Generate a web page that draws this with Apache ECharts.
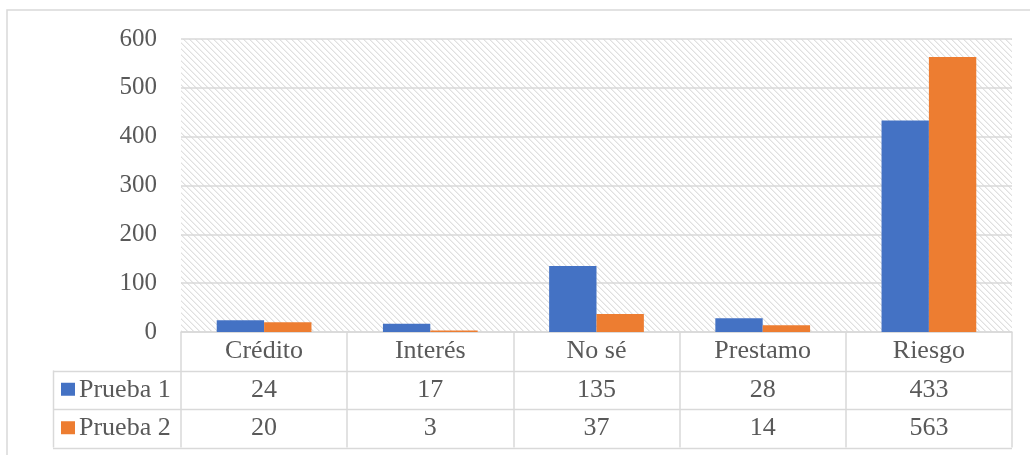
<!DOCTYPE html>
<html>
<head>
<meta charset="utf-8">
<script src="https://cdn.jsdelivr.net/npm/echarts@6/dist/echarts.min.js"></script>
<style>html,body{margin:0;padding:0;background:#fff;}#c{width:1030px;height:455px;}</style>
</head>
<body>
<div id="c"></div>
<script>
const categories = ['Crédito', 'Interés', 'No sé', 'Prestamo', 'Riesgo'];
const seriesNames = ['Prueba 1', 'Prueba 2'];
const prueba1 = [24, 17, 135, 28, 433];
const prueba2 = [20, 3, 37, 14, 563];
const yTicks = [0, 100, 200, 300, 400, 500, 600];
const colors = ['#4472C4', '#ED7D31'];

const FONT = '"Liberation Serif", "Times New Roman", serif';
const TXT = '#595959';
const LINE = '#d9d9d9';

// hatch pattern
const tile = document.createElement('canvas');
tile.width = 6; tile.height = 6;
const tc = tile.getContext('2d');
tc.fillStyle = '#ffffff';
tc.fillRect(0, 0, 6, 6);
for (let i = 0; i < 6; i++) {
  tc.fillStyle = '#e0e0e0';
  tc.fillRect(i, i, 1, 1);
  tc.fillStyle = '#f0f0f0';
  tc.fillRect((i + 1) % 6, i, 1, 1);
}

const G = { left: 181, right: 18, top: 39, bottom: 123 };
const W = 1030, H = 455;
const gridRight = W - G.right;
const gridBottom = H - G.bottom;
const rowH = 38.5;

const chart = echarts.init(document.getElementById('c'), null, { renderer: 'canvas' });

const tableLines = [];
for (let r = 1; r <= 3; r++) {
  const y = Math.round(gridBottom + r * rowH) + 0.5;
  tableLines.push({ type: 'line', shape: { x1: 53, y1: y, x2: gridRight, y2: y }, style: { stroke: LINE, lineWidth: 1.5 }, silent: true });
}
tableLines.push({ type: 'line', shape: { x1: 53.5, y1: gridBottom + rowH, x2: 53.5, y2: gridBottom + 3 * rowH }, style: { stroke: LINE, lineWidth: 1.5 }, silent: true });
seriesNames.forEach((n, i) => {
  const cy = gridBottom + (i + 1.5) * rowH;
  tableLines.push({ type: 'rect', shape: { x: 61, y: cy - 7, width: 14, height: 13 }, style: { fill: colors[i] }, silent: true });
  tableLines.push({ type: 'text', x: 79, y: cy, style: { text: n, fill: TXT, font: '26px ' + FONT, textVerticalAlign: 'middle', verticalAlign: 'middle' }, silent: true });
});
tableLines.push({ type: 'rect', shape: { x: 7, y: 10, width: 1100, height: 600 }, style: { fill: 'none', stroke: LINE, lineWidth: 1.5 }, silent: true, z: -1 });

function rowAxis(data, margin) {
  return {
    type: 'category', data: data.map(String), position: 'bottom',
    axisLine: { show: false }, axisTick: { show: false },
    axisLabel: { margin: margin, verticalAlign: 'middle', color: TXT, fontSize: 26, fontFamily: FONT, interval: 0 },
    splitLine: { show: false }
  };
}

chart.setOption({
  animation: false,
  backgroundColor: '#fff',
  textStyle: { fontFamily: FONT },
  grid: {
    left: G.left, right: G.right, top: G.top, bottom: G.bottom,
    show: true, borderWidth: 0,
    backgroundColor: { image: tile, repeat: 'repeat' }
  },
  xAxis: [
    {
      type: 'category', data: categories,
      axisLine: { show: true, lineStyle: { color: LINE, width: 1.5 } },
      axisTick: { show: true, length: 3 * rowH, lineStyle: { color: LINE, width: 1.5 } },
      axisLabel: { margin: rowH / 2, verticalAlign: 'middle', color: TXT, fontSize: 26, fontFamily: FONT, interval: 0 },
      splitLine: { show: false }
    },
    rowAxis(prueba1, rowH * 1.5),
    rowAxis(prueba2, rowH * 2.5)
  ],
  yAxis: {
    type: 'value', min: yTicks[0], max: yTicks[yTicks.length - 1], interval: yTicks[1] - yTicks[0],
    axisLine: { show: false }, axisTick: { show: false },
    axisLabel: { margin: 24, color: TXT, fontSize: 25, fontFamily: FONT },
    splitLine: { lineStyle: { color: LINE, width: 1.5 } }
  },
  series: [
    { name: seriesNames[0], type: 'bar', data: prueba1, itemStyle: { color: colors[0] }, barGap: '0%', barCategoryGap: '43%' },
    { name: seriesNames[1], type: 'bar', data: prueba2, itemStyle: { color: colors[1] }, barGap: '0%', barCategoryGap: '43%' }
  ],
  graphic: tableLines
});
</script>
</body>
</html>
